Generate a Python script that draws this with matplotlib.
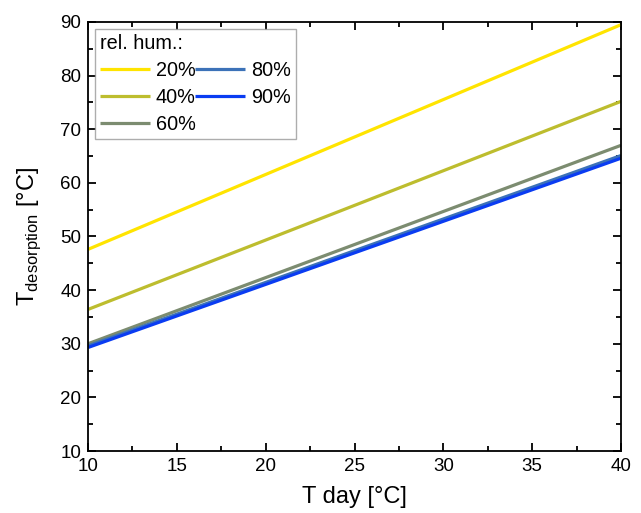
import matplotlib
matplotlib.use("Agg")
import matplotlib.pyplot as plt
from matplotlib.ticker import MultipleLocator
import numpy as np

plt.rcParams['font.family'] = ['Liberation Sans', 'DejaVu Sans']
plt.rcParams['mathtext.fontset'] = 'custom'
plt.rcParams['mathtext.rm'] = 'Liberation Sans'

t_day = [10, 40]
labels = ['20%', '40%', '60%', '80%', '90%']
t_des_20 = [47.6, 89.5]
t_des_40 = [36.4, 75.2]
t_des_60 = [30.0, 67.0]
t_des_80 = [29.6, 65.1]
t_des_90 = [29.3, 64.6]
series = [t_des_20, t_des_40, t_des_60, t_des_80, t_des_90]
colors = ['#FFE400', '#BDBD2E', '#7C8C70', '#3C72B8', '#0A3CF2']

fig = plt.figure(figsize=(6.41, 5.13), dpi=100)
ax = fig.add_axes([88/641, 1-451/513, (621-88)/641, (451-22)/513])

for ys, c, lab in zip(series, colors, labels):
    ax.plot(t_day, ys, color=c, lw=2.3, label=lab, solid_capstyle='butt')

ax.set_xlim(10, 40)
ax.set_ylim(10, 90)
ax.xaxis.set_major_locator(MultipleLocator(5))
ax.xaxis.set_minor_locator(MultipleLocator(2.5))
ax.yaxis.set_major_locator(MultipleLocator(10))
ax.yaxis.set_minor_locator(MultipleLocator(5))
ax.tick_params(which='both', direction='in', top=True, right=True, width=1.3, labelsize=13.5)
ax.tick_params(which='major', length=6, pad=5)
ax.tick_params(which='minor', length=3.5)
for s in ax.spines.values():
    s.set_linewidth(1.3)

ax.set_xlabel('T day [°C]', fontsize=17, labelpad=8)
ax.set_ylabel(r'T$_{\mathregular{desorption}}$ [°C]', fontsize=17, labelpad=12)

leg = ax.legend(title='rel. hum.:', ncol=2, loc='upper left', fontsize=14.3, title_fontsize=14.3,
                frameon=True, fancybox=False, edgecolor='#999999', borderaxespad=0.35,
                handlelength=2.5, columnspacing=0.0, handletextpad=0.3, labelspacing=0.4,
                borderpad=0.25)
leg._legend_box.align = 'left'
leg.get_frame().set_linewidth(1.0)

fig.savefig('out.png', dpi=100)
